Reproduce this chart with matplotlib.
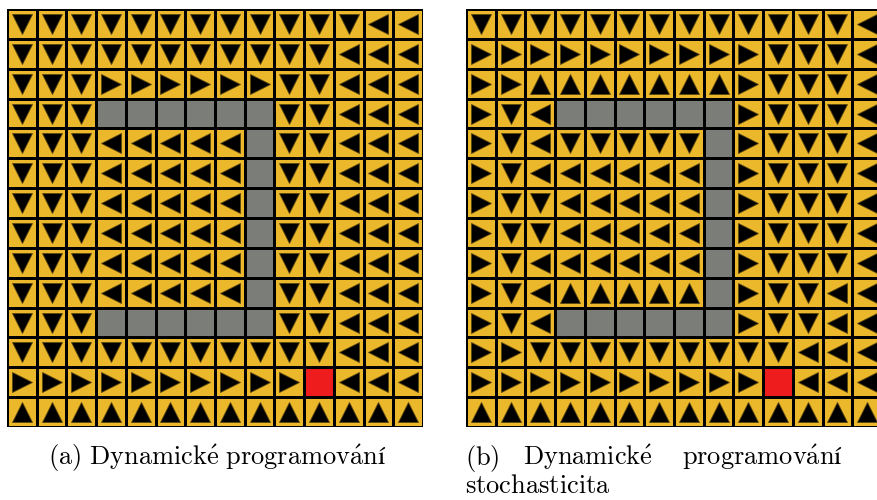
import numpy as np
import matplotlib.pyplot as plt
from matplotlib.colors import ListedColormap

plt.rcParams['mathtext.fontset'] = 'cm'

# policies on the 14x14 maze: v ^ < > = action, # = wall, G = goal
policy_dp = [
    "vvvvvvvvvvvv<<",
    "vvvvvvvvvvv<<<",
    "vvv>>>>>>vv<<<",
    "vvv######vv<<<",
    "vvv<<<<<#vv<<<",
    "vvv<<<<<#vv<<<",
    "vvv<<<<<#vv<<<",
    "vvv<<<<<#vv<<<",
    "vvv<<<<<#vv<<<",
    "vvv<<<<<#vv<<<",
    "vvv######vv<<<",
    "vvvvvvvvvvv<<<",
    ">>>>>>>>>>G<<<",
    "^^^^^^^^^^^^^^",
]

policy_stoch = [
    "vvvvvvvvvvvvv<",
    ">>>>>>>>>>vvv<",
    ">>^^^^^^^>vvv<",
    ">v<######>vvv<",
    ">v<vvvvv#>vvv<",
    ">v<<<<<<#>vvv<",
    ">vv<<<<<#>vvv<",
    ">vv<<<<<#>vvv<",
    ">v<<<<<<#>vvv<",
    ">v<^^^^^#>vv<<",
    ">v<######>vv<<",
    ">>vvvvvvvvv<<<",
    ">>>>>>>>>>G<<<",
    "^^^^^^^^^^^^^^",
]

cell_cmap = ListedColormap(['#ebb82b', '#7a7d78', '#ee1c1c'])


def draw_policy(ax, policy):
    kinds = np.array([[{'#': 1, 'G': 2}.get(c, 0) for c in row] for row in policy])
    n_rows, n_cols = kinds.shape
    ax.pcolormesh(np.arange(n_cols + 1) - 0.5, np.arange(n_rows + 1) - 0.5, kinds,
                  cmap=cell_cmap, vmin=0, vmax=2, edgecolors='black', linewidth=0.8)
    for m in 'v^<>':
        rr, cc = np.where(np.array([list(r) for r in policy]) == m)
        ax.plot(cc, rr, m, ms=14, color='black', mec='#5a4610', mew=0.6, ls='none')
    ax.set_xlim(-0.5, n_cols - 0.5)
    ax.set_ylim(n_rows - 0.5, -0.5)
    ax.axis('off')


fig = plt.figure(figsize=(8.78, 5.0), dpi=100)
ax1 = fig.add_axes([7 / 878, 73 / 500, 416 / 878, 418 / 500])
ax2 = fig.add_axes([466 / 878, 73 / 500, 416 / 878, 418 / 500])
draw_policy(ax1, policy_dp)
draw_policy(ax2, policy_stoch)

fs = 19
y1 = 1 - 465 / 500
y2 = 1 - 493 / 500
fig.text(48 / 878, y1, r"$\mathrm{(a)\ Dynamick\acute{e}\ programov\acute{a}ní}$",
         ha='left', va='baseline', fontsize=fs)
fig.text(465 / 878, y1, r"$\mathrm{(b)}$", ha='left', va='baseline', fontsize=fs)
fig.text(523 / 878, y1, r"$\mathrm{Dynamick\acute{e}}$", ha='left', va='baseline', fontsize=fs)
fig.text(843 / 878, y1, r"$\mathrm{programov\acute{a}ní}$", ha='right', va='baseline', fontsize=fs)
fig.text(465 / 878, y2, r"$\mathrm{stochasticita}$", ha='left', va='baseline', fontsize=fs)

fig.savefig('out.png', dpi=100)
